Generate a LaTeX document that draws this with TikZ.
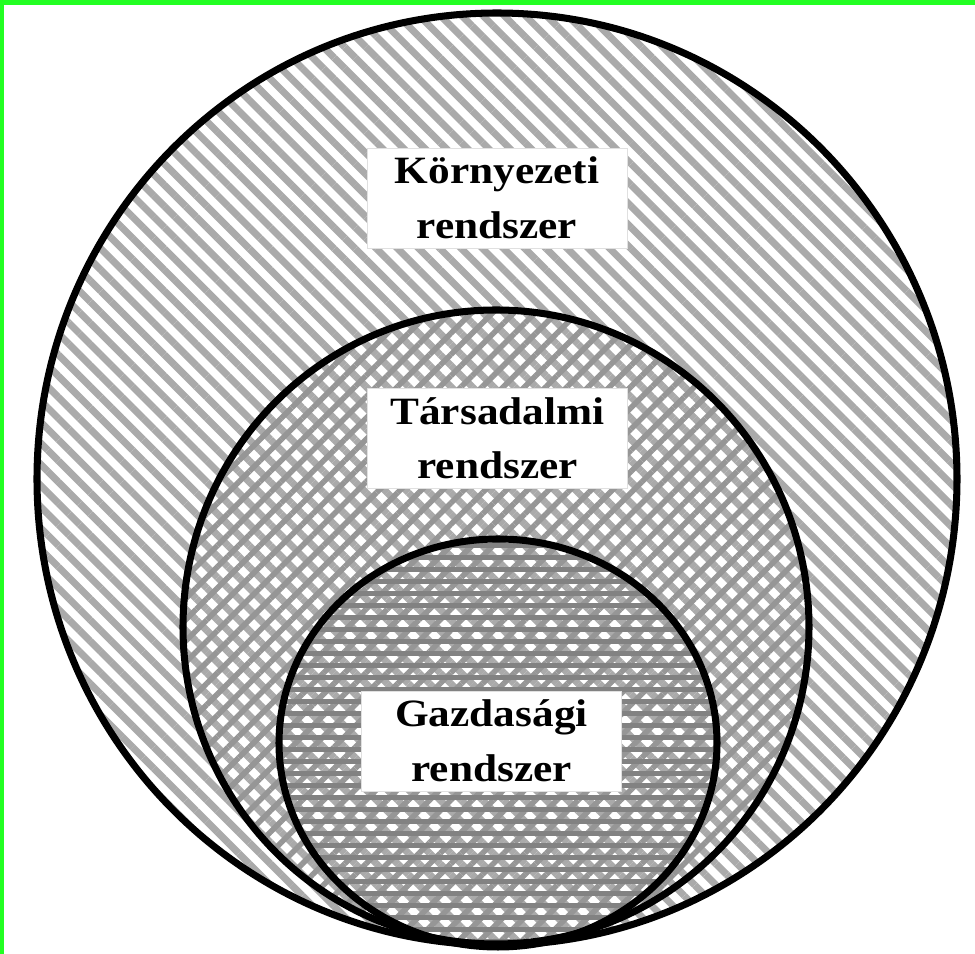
\documentclass[tikz,border=0pt]{standalone}
\usepackage{fontspec}
\setmainfont{Liberation Serif}
\newfontfamily\labelfont[FakeStretch=1.12]{Liberation Serif}
\usetikzlibrary{patterns.meta}

\definecolor{framegreen}{RGB}{34,255,34}
\definecolor{stripegray}{RGB}{170,170,170}
\definecolor{crossgray}{RGB}{150,150,150}
\definecolor{levelgray}{RGB}{130,130,130}

\begin{document}
\begin{tikzpicture}[
    ring/.style = {line width = 4pt},
    labelbox/.style = {draw = black!12, fill = white, align = center,
      minimum width = 5.2cm, minimum height = 2cm, inner sep = 0pt,
      font = \labelfont\bfseries\fontsize{22}{31}\selectfont}
  ]
        \useasboundingbox (0, 0) rectangle (19.5, 19.08);
        \fill[white] (0, 0) rectangle (19.5, 19.08);
        \fill[framegreen] (0, 18.98) rectangle (19.5, 19.08);
        \fill[framegreen] (0, 0) rectangle (0.08, 19.08);

        % hatching, one layer per system
        \fill[pattern = {Lines[angle = -45, distance = 0.3cm, line width = 0.14cm]}, pattern color = stripegray] (9.94, 9.5) ellipse [x radius = 9.2, y radius = 9.32];
        \fill[pattern = {Lines[angle = 45, distance = 0.3cm, line width = 0.11cm]}, pattern color = crossgray] (9.92, 6.54) ellipse [x radius = 6.26, y radius = 6.34];
        \fill[pattern = {Lines[angle = 0, distance = 0.24cm, line width = 0.1cm]}, pattern color = levelgray] (9.96, 4.22) ellipse [x radius = 4.38, y radius = 4.08];

        % outlines
        \draw[ring] (9.94, 9.5) ellipse [x radius = 9.2, y radius = 9.32];
        \draw[ring] (9.92, 6.54) ellipse [x radius = 6.26, y radius = 6.34];
        \draw[ring] (9.96, 4.22) ellipse [x radius = 4.38, y radius = 4.08];

        \node[labelbox] (env) at (9.94, 15.12) {Környezeti\\rendszer};
        \node[labelbox] (soc) at (9.95, 10.31) {Társadalmi\\rendszer};
        \node[labelbox] (eco) at (9.83, 4.26) {Gazdasági\\rendszer};
    \end{tikzpicture}
\end{document}
